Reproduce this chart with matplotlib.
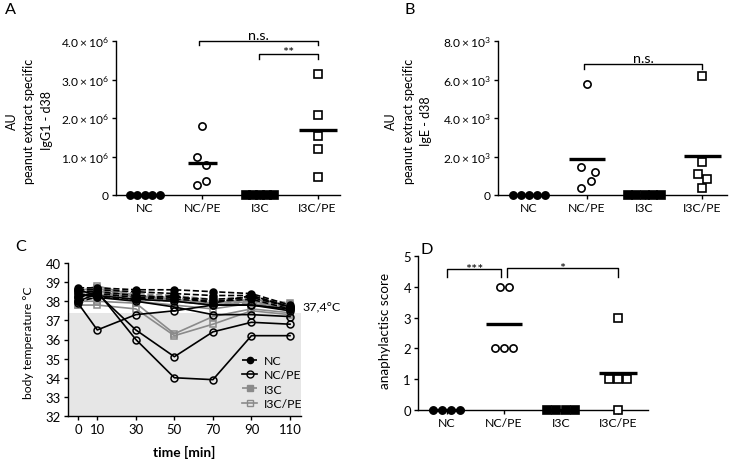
import matplotlib
matplotlib.use('Agg')
import matplotlib.pyplot as plt
from matplotlib.lines import Line2D

plt.rcParams['font.family'] = ['Lato', 'DejaVu Sans']
plt.rcParams['mathtext.fontset'] = 'custom'
plt.rcParams['mathtext.rm'] = 'Lato'
plt.rcParams['mathtext.it'] = 'Lato:italic'
plt.rcParams['mathtext.bf'] = 'Lato:bold'

# ---------------- data ----------------
groups = ['NC', 'NC/PE', 'I3C', 'I3C/PE']

igg1_nc = [0, 0, 0, 0, 0]
igg1_ncpe = [1.78e6, 1.00e6, 0.78e6, 0.27e6, 0.37e6]
igg1_i3c = [0, 0, 0, 0, 0]
igg1_i3cpe = [3.14e6, 2.09e6, 1.54e6, 1.19e6, 0.48e6]
igg1_ticks = [0, 1e6, 2e6, 3e6, 4e6]
igg1_ticklabels = ['0', r'$1.0\times10^{6}$', r'$2.0\times10^{6}$',
                   r'$3.0\times10^{6}$', r'$4.0\times10^{6}$']

ige_nc = [0, 0, 0, 0, 0]
ige_ncpe = [5.78e3, 1.44e3, 1.18e3, 0.71e3, 0.36e3]
ige_i3c = [0, 0, 0, 0, 0]
ige_i3cpe = [6.18e3, 1.70e3, 1.09e3, 0.83e3, 0.35e3]
ige_ticks = [0, 2e3, 4e3, 6e3, 8e3]
ige_ticklabels = ['0', r'$2.0\times10^{3}$', r'$4.0\times10^{3}$',
                  r'$6.0\times10^{3}$', r'$8.0\times10^{3}$']

score_nc = [0, 0, 0, 0]
score_ncpe = [4, 4, 2, 2, 2]
score_i3c = [0, 0, 0, 0]
score_i3cpe = [3, 1, 1, 1, 0]

time_min = [0, 10, 30, 50, 70, 90, 110]
temp_nc = [
    [38.7, 38.7, 38.6, 38.6, 38.5, 38.4, 37.8],
    [38.6, 38.6, 38.5, 38.4, 38.3, 38.3, 37.7],
    [38.5, 38.5, 38.3, 38.2, 38.1, 38.2, 37.7],
    [38.2, 38.4, 38.2, 38.1, 38.0, 38.1, 37.6],
    [38.0, 38.2, 38.1, 38.3, 37.9, 38.3, 37.7],
]
temp_ncpe = [
    [37.9, 36.5, 37.3, 37.5, 37.8, 37.8, 37.6],
    [38.0, 38.4, 36.5, 35.1, 36.4, 36.9, 36.8],
    [38.2, 38.5, 36.0, 34.0, 33.9, 36.2, 36.2],
    [38.4, 38.2, 38.0, 37.7, 37.3, 37.3, 37.2],
    [38.6, 38.3, 38.1, 38.0, 37.8, 37.8, 37.5],
]
temp_i3c = [
    [38.4, 38.7, 38.4, 38.3, 38.1, 38.2, 37.9],
    [38.2, 38.6, 38.3, 38.2, 38.0, 38.1, 37.8],
    [38.0, 38.5, 38.2, 38.1, 37.9, 38.0, 37.7],
    [37.8, 38.4, 38.1, 38.0, 37.8, 37.9, 37.6],
]
temp_i3cpe = [
    [37.8, 37.8, 37.6, 36.2, 36.8, 37.5, 37.3],
    [38.0, 38.0, 37.9, 36.3, 37.2, 37.6, 37.4],
    [38.1, 38.6, 38.0, 37.8, 37.6, 37.9, 37.5],
    [38.3, 38.7, 38.2, 38.0, 37.8, 38.0, 37.6],
    [38.5, 38.8, 38.3, 38.1, 37.9, 38.1, 37.8],
]
threshold = 37.4

# ---------------- styling ----------------
GRAY = '#8a8a8a'
SHADE = '#e6e6e6'
marker_styles = [
    dict(marker='o', mfc='black', mec='black'),
    dict(marker='o', mfc='white', mec='black'),
    dict(marker='s', mfc='black', mec='black'),
    dict(marker='s', mfc='white', mec='black'),
]

fig = plt.figure(figsize=(7.33, 4.6), dpi=100)
W, H = 733, 460
renderer = fig.canvas.get_renderer()


def fit(s, target_px, **kw):
    """font size (pt) so that string s is target_px wide"""
    t = fig.text(0, 0, s, fontsize=10, **kw)
    w = t.get_window_extent(renderer).width
    t.remove()
    return 10.0 * target_px / w


FS_XT = fit('NC/PE', 37)
FS_YT = fit(r'$4.0\times10^{6}$', 48)
FS_YL = fit('peanut extract specific', 125)
FS_CT = fit('110', 23)
FS_CYL = fit('body temperature °C', 113)
FS_DYL = fit('anaphylactisc score', 115)
FS_TIME = fit('time [min]', 62, fontweight='bold')
FS_THR = fit('37,4°C', 38)
FS_LEG = fit('NC/PE', 37)
FS_SIG = fit('n.s.', 21)
FS_AST = fit('***', 18)
FS_LET = fit('A', 11)


def ax_px(l, r, b, t):
    return fig.add_axes([l / W, 1 - b / H, (r - l) / W, (b - t) / H])


def style_axes(ax, xfs, yfs):
    for s in ['top', 'right']:
        ax.spines[s].set_visible(False)
    for s in ['left', 'bottom']:
        ax.spines[s].set_linewidth(1.0)
    ax.tick_params(direction='out', length=3, width=1.0, pad=2)
    ax.tick_params(axis='x', labelsize=xfs)
    ax.tick_params(axis='y', labelsize=yfs)


def dotplot(ax, datasets, offsets, half_widths):
    for i, (vals, offs) in enumerate(zip(datasets, offsets)):
        st = marker_styles[i]
        xs = [i + o for o in offs]
        ax.plot(xs, vals, linestyle='none', marker=st['marker'], ms=5.2,
                mfc=st['mfc'], mec=st['mec'], mew=1.2, clip_on=False, zorder=4)
        m = sum(vals) / len(vals)
        ax.plot([i - half_widths[i], i + half_widths[i]], [m, m], color='black',
                lw=2.4, solid_capstyle='butt', clip_on=False, zorder=5)
    ax.set_xticks(range(len(groups)))
    ax.set_xticklabels(groups)


def bracket(ax, x0, x1, ytop, ybot, text, dy, fs):
    ax.plot([x0, x0, x1, x1], [ybot, ytop, ytop, ybot], color='black', lw=1.0,
            clip_on=False, zorder=6)
    ax.text((x0 + x1) / 2, ytop + dy, text, ha='center', va='bottom',
            fontsize=fs, clip_on=False)


def figtext_px(x, y, s, **kw):
    fig.text(x / W, 1 - y / H, s, **kw)


# ---------------- Panel A ----------------
axA = ax_px(116, 340, 196, 42)
style_axes(axA, FS_XT, FS_YT)
dotplot(axA, [igg1_nc, igg1_ncpe, igg1_i3c, igg1_i3cpe],
        [[-0.26, -0.13, 0, 0.13, 0.26], [0, -0.09, 0.07, -0.09, 0.07],
         [-0.25, -0.12, 0, 0.12, 0.25], [0, 0, 0, 0, 0]],
        [0.3, 0.25, 0.3, 0.33])
axA.set_xlim(-0.5, 3.39)
axA.set_ylim(0, 4e6)
axA.set_yticks(igg1_ticks)
axA.set_yticklabels(igg1_ticklabels)
bracket(axA, 0.95, 3.0, 4.0e6, 3.89e6, 'n.s.', 0.0e6, FS_SIG)
bracket(axA, 1.98, 3.0, 3.65e6, 3.54e6, '**', -0.08e6, FS_AST)

# ---------------- Panel B ----------------
axB = ax_px(498, 727, 196, 42)
style_axes(axB, FS_XT, FS_YT)
dotplot(axB, [ige_nc, ige_ncpe, ige_i3c, ige_i3cpe],
        [[-0.28, -0.14, 0, 0.14, 0.28], [0, -0.1, 0.15, 0.07, -0.1],
         [-0.28, -0.14, 0, 0.14, 0.28], [0, 0, -0.08, 0.08, 0]],
        [0.3, 0.31, 0.3, 0.32])
axB.set_xlim(-0.54, 3.43)
axB.set_ylim(0, 8e3)
axB.set_yticks(ige_ticks)
axB.set_yticklabels(ige_ticklabels)
bracket(axB, 0.95, 3.0, 6.79e3, 6.53e3, 'n.s.', 0.0, FS_SIG)

# ---------------- Panel C ----------------
axC = ax_px(68, 301, 417, 264)
style_axes(axC, FS_CT, FS_CT)
axC.set_xlim(-5.2, 115.7)
axC.set_ylim(32, 40)
axC.axhspan(32, threshold, color=SHADE, lw=0, zorder=0)
series_C = [
    (temp_i3cpe, dict(color=GRAY, ls='-', marker='s', mfc='none', mec=GRAY)),
    (temp_i3c, dict(color=GRAY, ls='--', marker='s', mfc=GRAY, mec=GRAY)),
    (temp_ncpe, dict(color='black', ls='-', marker='o', mfc='none', mec='black')),
    (temp_nc, dict(color='black', ls='--', marker='o', mfc='black', mec='black')),
]
for data, st in series_C:
    for row in data:
        axC.plot(time_min, row, lw=1.2, ms=5, mew=1.1, clip_on=False, zorder=3, **st)
axC.set_xticks(time_min)
axC.set_yticks(range(32, 41))
axC.text(116.5, 37.72, '37,4°C', fontsize=FS_THR, ha='left', va='center', clip_on=False)
handles = [
    Line2D([], [], color='black', ls='--', marker='o', mfc='black', mec='black', ms=4.5, lw=1.2),
    Line2D([], [], color='black', ls='-', marker='o', mfc='none', mec='black', ms=5, lw=1.2),
    Line2D([], [], color=GRAY, ls='--', marker='s', mfc=GRAY, mec=GRAY, ms=4.5, lw=1.2),
    Line2D([], [], color=GRAY, ls='-', marker='s', mfc='none', mec=GRAY, ms=5, lw=1.2),
]
axC.legend(handles, groups, loc='upper left', bbox_to_anchor=(0.745, 0.40),
           frameon=False, fontsize=FS_LEG, handlelength=1.3, handletextpad=0.55,
           labelspacing=0.28, borderpad=0, borderaxespad=0)
figtext_px(28, 343, 'body temperature °C', rotation=90, ha='center', va='center',
           fontsize=FS_CYL)
figtext_px(184, 452, 'time [min]', ha='center', va='center', fontsize=FS_TIME,
           fontweight='bold')

# ---------------- Panel D ----------------
axD = ax_px(418, 648, 411, 257)
style_axes(axD, FS_XT, FS_CT)
dotplot(axD, [score_nc, score_ncpe, score_i3c, score_i3cpe],
        [[-0.24, -0.08, 0.08, 0.24], [-0.07, 0.09, -0.16, 0, 0.16],
         [-0.24, -0.08, 0.08, 0.24], [0, -0.16, 0, 0.16, 0]],
        [0.3, 0.31, 0.3, 0.33])
axD.set_xlim(-0.5, 3.52)
axD.set_ylim(0, 5)
axD.set_yticks(range(0, 6))
bracket(axD, 0.0, 0.95, 4.59, 4.32, '***', -0.2, FS_AST)
bracket(axD, 1.05, 3.0, 4.62, 4.32, '*', -0.2, FS_AST)
figtext_px(385, 331, 'anaphylactisc score', rotation=90, ha='center', va='center',
           fontsize=FS_DYL)

# ---------------- y labels for A and B ----------------
for x, s in [(12, 'AU'), (29, 'peanut extract specific'), (47, 'IgG1 - d38'),
             (391, 'AU'), (409, 'peanut extract specific'), (426, 'IgE - d38')]:
    figtext_px(x, 121, s, rotation=90, ha='center', va='center', fontsize=FS_YL)

# ---------------- panel letters ----------------
for x, y, s in [(5, 3, 'A'), (405, 3, 'B'), (15, 240, 'C'), (420, 243, 'D')]:
    figtext_px(x, y, s, ha='left', va='top', fontsize=FS_LET)

fig.savefig('out.png', dpi=100)
